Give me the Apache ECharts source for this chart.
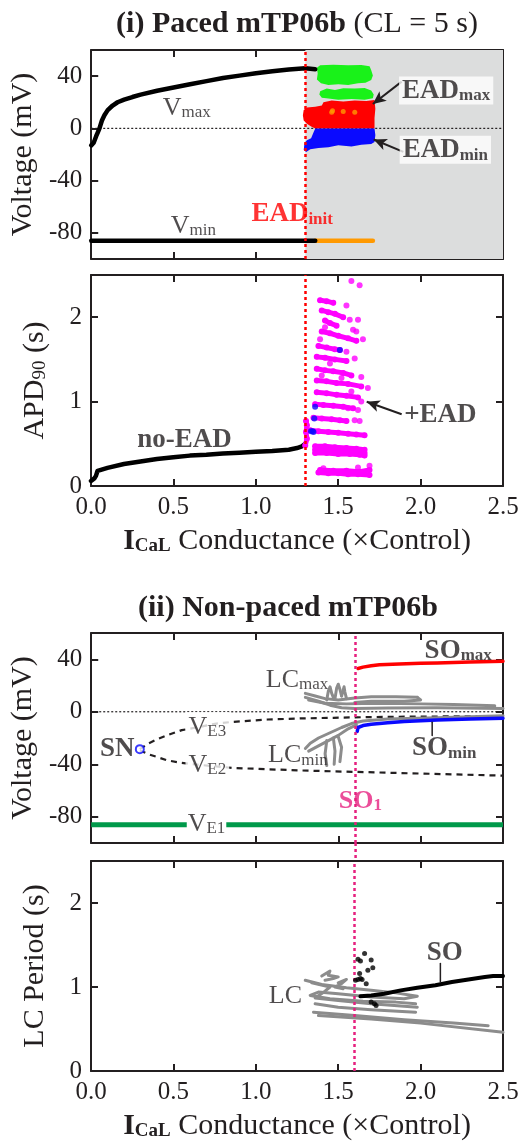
<!DOCTYPE html>
<html><head><meta charset="utf-8">
<script src="https://cdn.jsdelivr.net/npm/echarts@6/dist/echarts.min.js"></script>
<style>html,body{margin:0;padding:0;background:#fff}#c{width:532px;height:1142px}</style>
</head><body><div id="c"></div>
<script>
// ---------------- DATA ----------------
const voltTicks = [-80, -40, 0, 40];
const apdTicks = [0, 1, 2];
const periodTicks = [0, 1, 2];
const eadInit = 1.3;
const so1 = 1.605;

// (i) paced: Vmax / Vmin
const vmaxCurve = [[0,-13],[0.015,-11],[0.03,-6],[0.04,-3],[0.05,0],[0.065,6],[0.08,10],[0.1,14],[0.13,17.5],[0.16,20],[0.2,22],[0.25,24],[0.3,25.8],[0.4,28.8],[0.5,31.3],[0.6,33.8],[0.7,36.2],[0.8,38.5],[0.9,40.4],[1.0,42.2],[1.1,43.7],[1.2,45],[1.3,46],[1.36,45.3]];
const vminCurve = [[0,-86],[1.36,-86]];
const vminEAD = [[1.36,-86],[1.71,-86]];
const eadMaxHigh = [[1.37,46.5],[1.39,48.3],[1.47,48.7],[1.56,48.3],[1.64,48.6],[1.69,47.5],[1.70,44.5],[1.71,40.5],[1.70,37],[1.665,35],[1.62,34.5],[1.56,33.3],[1.50,33.8],[1.44,33.2],[1.395,34.5],[1.37,37.5],[1.375,42]];
const eadMaxLow = [[1.39,28.5],[1.43,30.5],[1.48,29.3],[1.53,30.8],[1.60,30.5],[1.66,31],[1.70,29],[1.715,26],[1.71,23],[1.66,22],[1.58,22.5],[1.50,22],[1.44,22.8],[1.40,23.5],[1.385,26]];
const eadMaxRed = [[1.41,20],[1.46,21.3],[1.53,20.5],[1.60,21.3],[1.67,21],[1.72,21.8],[1.725,15],[1.72,8],[1.72,0],[1.36,0],[1.335,1.5],[1.31,3.5],[1.29,6],[1.285,10],[1.29,14],[1.31,16],[1.36,16.5],[1.40,17.5]];
const eadMinBlue = [[1.36,0],[1.72,0],[1.725,-5],[1.72,-10.5],[1.70,-12],[1.64,-12.5],[1.58,-13.8],[1.50,-13],[1.44,-14.5],[1.38,-15],[1.33,-16],[1.305,-18],[1.29,-16.5],[1.295,-11],[1.31,-9],[1.335,-7.5],[1.35,-3]];
const orangeMidDots = [[1.46,12.3],[1.53,13],[1.60,12.3],[1.465,13.5]];

// (i) paced: APD90
const apdCurve = [[0,0.06],[0.02,0.09],[0.03,0.12],[0.04,0.18],[0.05,0.2],[0.1,0.215],[0.2,0.26],[0.3,0.29],[0.4,0.32],[0.5,0.34],[0.6,0.36],[0.7,0.37],[0.8,0.385],[0.9,0.395],[1.0,0.405],[1.1,0.415],[1.2,0.43],[1.25,0.45],[1.28,0.47],[1.3,0.5]];
const apdEadRows = [
 [[1.38,0.16],[1.44,0.15],[1.50,0.15],[1.56,0.14],[1.62,0.14],[1.69,0.13]],
 [[1.39,0.19],[1.47,0.18],[1.55,0.18],[1.63,0.17],[1.69,0.19]],
 [[1.36,0.47],[1.42,0.47],[1.48,0.46],[1.55,0.45],[1.61,0.44],[1.66,0.43]],
 [[1.36,0.43],[1.42,0.43],[1.49,0.42],[1.56,0.41],[1.62,0.40],[1.66,0.39]],
 [[1.36,0.39],[1.43,0.39],[1.50,0.38],[1.57,0.38],[1.63,0.37],[1.66,0.36]],
 [[1.33,0.66],[1.38,0.65],[1.44,0.64],[1.50,0.63],[1.56,0.62],[1.61,0.61],[1.66,0.60]],
 [[1.35,0.81],[1.40,0.80],[1.46,0.79],[1.51,0.78],[1.55,0.77]],
 [[1.36,0.97],[1.41,0.96],[1.47,0.95],[1.53,0.94],[1.59,0.92]],
 [[1.37,1.11],[1.43,1.10],[1.49,1.08],[1.55,1.07],[1.62,1.05]],
 [[1.37,1.25],[1.43,1.24],[1.49,1.22],[1.56,1.21],[1.64,1.18]],
 [[1.37,1.39],[1.42,1.37],[1.47,1.36],[1.53,1.34],[1.58,1.31]],
 [[1.37,1.53],[1.42,1.52],[1.48,1.50],[1.55,1.48]],
 [[1.38,1.66],[1.43,1.64],[1.48,1.62],[1.51,1.61]],
 [[1.40,1.83],[1.45,1.81],[1.50,1.78],[1.56,1.75],[1.61,1.72]],
 [[1.42,1.96],[1.45,1.93],[1.49,1.90]],
 [[1.40,2.08],[1.44,2.06],[1.48,2.04],[1.53,2.00]],
 [[1.39,2.20],[1.43,2.19],[1.47,2.17]],
 [[1.30,0.48],[1.31,0.56],[1.305,0.64],[1.31,0.72],[1.305,0.77]]
];
const apdEadDots = [[1.69,0.24],[1.62,0.22],[1.41,0.21],[1.60,0.78],[1.63,0.77],[1.64,1.00],[1.62,0.90],[1.56,0.92],[1.68,1.16],[1.64,1.29],[1.60,1.51],[1.55,1.59],[1.65,1.74],[1.59,1.85],[1.61,1.83],[1.57,1.97],[1.62,1.97],[1.55,2.14],[1.58,2.43],[1.63,2.38],[1.40,1.31],[1.45,1.45],[1.52,1.28],[1.58,1.12],[1.39,1.74],[1.42,1.88]];
const apdBlueDots = [[1.335,0.65],[1.345,0.65],[1.35,0.64],[1.355,0.80],[1.36,0.94],[1.51,1.61]];

// (ii) non-paced: voltage
const soMax = [[1.62,33],[1.65,34],[1.7,35],[1.75,35.8],[1.87,36.4],[2.0,37],[2.1,37.2],[2.3,37.9],[2.5,38.5]];
const soMin = [[1.615,-15],[1.62,-12],[1.65,-10.5],[1.7,-9.5],[1.8,-8.3],[1.9,-7.5],[2.0,-6.8],[2.1,-6.3],[2.3,-5.6],[2.5,-5]];
const vE3 = [[0.295,-28.5],[0.35,-24],[0.4,-21],[0.46,-18],[0.55,-14],[0.66,-11.5],[0.76,-9],[0.86,-7.7],[1.07,-5.9],[1.27,-5.1],[1.47,-4.6],[1.67,-4.1],[1.87,-3.8],[2.5,-3.3]];
const vE2 = [[0.295,-29.5],[0.35,-32.5],[0.4,-34.5],[0.46,-37],[0.55,-39],[0.66,-40.5],[0.86,-42.8],[1.07,-43.8],[1.27,-44.7],[1.47,-45.4],[1.67,-46],[1.87,-46.7],[2.2,-47.7],[2.5,-48.7]];
const vE1 = [[[0,-86],[0.58,-86]], [[0.82,-86],[2.5,-86]]];
const snPoint = [0.295, -28.5];
const lcMaxLines = [
 [[1.30,14],[1.36,12],[1.42,10],[1.50,9],[1.60,10.5],[1.70,11.5],[1.85,11.5],[1.98,11]],
 [[1.30,11],[1.38,8],[1.45,5],[1.52,3],[1.60,2.5],[1.80,2.8],[2.1,3],[2.5,2.5]],
 [[1.32,9],[1.42,6.5],[1.55,6],[1.75,6.5],[2.0,6],[2.2,5.5],[2.45,4.5]],
 [[1.98,11],[2.0,9],[1.9,8],[1.7,8],[1.6,7]],
 [[1.43,9],[1.44,16],[1.45,19],[1.46,14],[1.47,11]],
 [[1.48,10],[1.49,18],[1.50,21],[1.51,17],[1.52,12]],
 [[1.52,12],[1.535,19],[1.54,15],[1.55,10]]
];
const lcMinLines = [
 [[1.30,-28],[1.33,-24],[1.38,-20],[1.45,-16],[1.52,-12],[1.58,-9],[1.65,-7],[1.8,-5.5],[2.1,-4.5],[2.5,-3]],
 [[1.32,-30],[1.38,-26],[1.44,-22],[1.50,-18],[1.56,-13],[1.61,-10]],
 [[1.43,-22],[1.42,-32],[1.43,-41]],
 [[1.47,-20],[1.48,-30],[1.475,-40]],
 [[1.50,-19],[1.52,-27],[1.51,-38]]
];

// (ii) non-paced: LC period
const soPeriod = [[1.635,0.89],[1.70,0.90],[1.78,0.92],[1.88,0.96],[1.98,0.99],[2.09,1.02],[2.19,1.06],[2.29,1.09],[2.39,1.12],[2.44,1.13],[2.5,1.13]];
const soPeriodDots = [[1.605,1.08],[1.62,1.33],[1.635,1.31],[1.66,1.40],[1.70,1.32],[1.71,1.23],[1.68,1.20],[1.63,1.16],[1.62,1.09],[1.635,1.10],[1.645,1.09],[1.67,1.04],[1.70,0.82],[1.72,0.80],[1.73,0.78]];
const lcPeriodLines = [
 [[1.30,1.08],[1.40,1.03],[1.55,0.99],[1.70,0.96],[1.85,0.93],[1.98,0.89],[1.90,0.86],[1.70,0.88],[1.50,0.92],[1.38,0.94],[1.33,0.90],[1.45,0.86],[1.65,0.83],[1.85,0.82],[1.97,0.80]],
 [[1.34,1.05],[1.45,1.0],[1.42,0.95],[1.36,0.87],[1.5,0.84],[1.7,0.80],[1.98,0.76]],
 [[1.36,0.80],[1.5,0.76],[1.7,0.73],[1.97,0.70]],
 [[1.35,0.70],[1.6,0.66],[1.9,0.61],[2.2,0.57],[2.41,0.54]],
 [[1.38,0.66],[1.7,0.62],[2.0,0.57],[2.5,0.46]],
 [[1.40,1.13],[1.45,1.19],[1.44,1.14],[1.50,1.12],[1.47,1.10],[1.42,1.08]],
 [[1.50,1.05],[1.55,1.09],[1.52,1.04],[1.48,1.0],[1.53,0.98]]
];

// annotations (anchor in data coordinates)
const annotations = [
 {g:0, at:[0.58,16.5], text:'{r|V}{rs|max}'},
 {g:0, at:[0.62,-74], text:'{r|V}{rs|min}'},
 {g:0, at:[2.155,29], text:'{b|EAD}{bs|max}', bg:true},
 {g:0, at:[2.15,-16.4], text:'{b|EAD}{bs|min}', bg:true},
 {g:0, at:[1.22,-65.5], text:'{red|EAD}{reds|init}'},
 {g:1, at:[0.568,0.546], text:'{b|no-EAD}'},
 {g:1, at:[2.12,0.85], text:'{b|+EAD}'},
 {g:2, at:[2.228,47], text:'{b|SO}{bs|max}'},
 {g:2, at:[1.25,25], text:'{r|LC}{rs|max}'},
 {g:2, at:[0.705,-10.8], text:'{r|V}{rs|E3}', bg:true},
 {g:2, at:[0.158,-28.2], text:'{b|SN}'},
 {g:2, at:[0.705,-39.7], text:'{r|V}{rs|E2}', bg:true},
 {g:2, at:[1.255,-32.6], text:'{r|LC}{rs|min}'},
 {g:2, at:[2.143,-27.4], text:'{b|SO}{bs|min}'},
 {g:2, at:[1.634,-67.4], text:'{pk|SO}{pks|1}'},
 {g:2, at:[0.70,-85], text:'{r|V}{rs|E1}'},
 {g:3, at:[2.146,1.41], text:'{b|SO}'},
 {g:3, at:[1.18,0.90], text:'{r|LC}'}
];
const arrows = [
 {g:0, from:[1.885,35.8], to:[1.71,18.7]},
 {g:0, from:[1.895,-18], to:[1.715,-8.5]},
 {g:1, from:[1.885,0.85], to:[1.673,0.998]}
];
const connectors = [
 {g:2, pts:[[2.07,-18],[2.07,-8]]},
 {g:3, pts:[[2.12,1.28],[2.12,1.06]]}
];

// ---------------- STYLE / BUILD ----------------
const F = '"Liberation Serif","Times New Roman",serif';
const INK = '#231f20';
const PINK = '#e6217f';
const GRAYLC = '#8c8c8c';
function tok(size, color, bold, lh) {
 return {fontFamily:F, fontSize:size, fontWeight: bold ? 'bold' : 'normal', color, lineHeight:lh, verticalAlign:'bottom'};
}
const RICH = {
 r:tok(26,INK,false,28), rs:tok(17,INK,false,19),
 b:tok(27,INK,true,28), bs:tok(17,INK,true,19),
 red:tok(27,'#ff0000',true,28), reds:tok(17,'#ff0000',true,19),
 pk:tok(26,PINK,true,28), pks:tok(17,PINK,true,19)
};

const grids = [
 {left:91, width:412, top:50, height:209},
 {left:91, width:412, top:275, height:211},
 {left:91, width:412, top:633, height:210},
 {left:91, width:412, top:861, height:210}
];
const frameLine = {show:true, onZero:false, lineStyle:{color:INK, width:2}};
const tickStyle = {show:true, inside:true, length:7, lineStyle:{color:INK, width:2}};
const xNameRich = {b:tok(30,INK,true,32), bs:tok(19,INK,true,20), r:tok(30,INK,false,32)};
const yNameRich = {m:tok(30,INK,false,32), s:tok(19,INK,false,10)};
const xAxes = [], yAxes = [];
function addX(g, labels, withName) {
 const base = {type:'value', gridIndex:g, min:0, max:2.5, interval:0.5, splitLine:{show:false}, axisLine:frameLine, axisTick:tickStyle};
 xAxes.push(Object.assign({}, base, {position:'bottom',
  axisLabel:{show:labels, formatter:v=>v.toFixed(1), fontFamily:F, fontSize:25, color:INK, margin:9},
  name: withName ? '{b|I}{bs|CaL}{r| Conductance (×Control)}' : '',
  nameLocation:'middle', nameGap:38,
  nameTextStyle:{rich:xNameRich, fontFamily:F, fontSize:30, color:INK}}));
 xAxes.push(Object.assign({}, base, {position:'top', axisLabel:{show:false}}));
}
function addY(g, min, max, ticks, name, gap) {
 const base = {type:'value', gridIndex:g, min, max, splitLine:{show:false}, axisLine:frameLine,
  axisTick:Object.assign({}, tickStyle, {customValues:ticks})};
 yAxes.push(Object.assign({}, base, {position:'left',
  axisLabel:{show:true, customValues:ticks, fontFamily:F, fontSize:25, color:INK, margin:9},
  name, nameLocation:'middle', nameRotate:90, nameGap:gap,
  nameTextStyle:{fontFamily:F, fontSize:30, color:INK, rich:yNameRich}}));
 yAxes.push(Object.assign({}, base, {position:'right', axisLabel:{show:false, customValues:ticks}}));
}
addX(0,false,false); addX(1,true,true); addX(2,false,false); addX(3,true,true);
addY(0,-100,60,voltTicks,'{m|Voltage (mV)}',35);
addY(1,0,2.5,apdTicks,'{m|APD}{s|90}{m| (s)}',41);
addY(2,-100,60,voltTicks,'{m|Voltage (mV)}',35);
addY(3,0,2.5,periodTicks,'{m|LC Period (s)}',41);

const series = [];
function ax(g){ return {xAxisIndex:2*g, yAxisIndex:2*g}; }
function line(g, data, color, width, extra) {
 series.push(Object.assign({type:'line', data, symbol:'none', silent:true, z:3,
  lineStyle:{color, width, cap:'round', join:'round'}}, ax(g), extra||{}));
}
function dots(g, data, color, size, z) {
 series.push(Object.assign({type:'scatter', data, symbolSize:size, silent:true, z:z||4,
  itemStyle:{color}}, ax(g)));
}
function poly(g, pts, color) {
 series.push(Object.assign({type:'custom', silent:true, z:2, data:pts,
  renderItem:(params, api) => {
   if (params.dataIndex !== 0) return null;
   return {type:'polygon', shape:{points: pts.map(p => api.coord(p))}, style:{fill:color}};
  }}, ax(g)));
}
function vline(g, x, color) {
 series.push(Object.assign({type:'line', data:[], silent:true, z:5,
  markLine:{silent:true, symbol:'none', animation:false, label:{show:false},
   lineStyle:{color, width:2.5, type:[3,3]}, data:[{xAxis:x}]}}, ax(g)));
}

// background of EAD region
series.push(Object.assign({type:'line', data:[[eadInit,-100]], symbol:'none', silent:true, z:0,
 lineStyle:{width:0}, markArea:{silent:true, itemStyle:{color:'#dcdddd'}, data:[[{xAxis:eadInit},{xAxis:2.5}]]}}, ax(0)));
// zero lines
line(0, [[0,0],[2.5,0]], INK, 1, {z:1, lineStyle:{color:INK, width:1.2, type:[2,2]}});
line(2, [[0,0],[2.5,0]], INK, 1, {z:1, lineStyle:{color:INK, width:1.2, type:[2,2]}});

// panel 1
poly(0, eadMaxHigh, '#19f219');
poly(0, eadMaxLow, '#19f219');
poly(0, eadMaxRed, '#ff0000');
poly(0, eadMinBlue, '#0a0aff');
dots(0, orangeMidDots, '#ff9900', 5, 4);
line(0, vmaxCurve, '#000', 4.5);
line(0, vminCurve, '#000', 4.5);
line(0, vminEAD, '#ff9900', 4.5, {z:2});
vline(0, eadInit, '#ff0000');

// panel 2
line(1, apdCurve, '#000', 4.5);
apdEadRows.forEach(r => line(1, r, '#ff00ff', 5, {symbol:'circle', symbolSize:6, showSymbol:true, showAllSymbol:true, itemStyle:{color:'#ff00ff'}}));
dots(1, apdEadDots, '#ff00ff', 6, 4);
dots(1, apdBlueDots, '#0a0aff', 6, 5);
vline(1, eadInit, '#ff0000');

// panel 3
vE1.forEach(s => line(2, s, '#00994a', 5, {lineStyle:{color:'#00994a', width:5, cap:'butt'}}));
line(2, vE3, INK, 2.2, {lineStyle:{color:INK, width:2.2, type:[6,5]}});
line(2, vE2, INK, 2.2, {lineStyle:{color:INK, width:2.2, type:[6,5]}});
lcMaxLines.forEach(l => line(2, l, GRAYLC, 3));
lcMinLines.forEach(l => line(2, l, GRAYLC, 3));
line(2, soMax, '#ff0000', 3.5, {z:4});
line(2, soMin, '#0a0aff', 3.5, {z:4});
series.push(Object.assign({type:'scatter', data:[snPoint], symbol:'circle', symbolSize:8, silent:true, z:6,
 itemStyle:{color:'#fff', borderColor:'#0a0aff', borderWidth:2}}, ax(2)));
vline(2, so1, PINK);

// panel 4
lcPeriodLines.forEach(l => line(3, l, GRAYLC, 3));
line(3, soPeriod, '#000', 4, {z:4});
dots(3, soPeriodDots, '#000', 5, 5);
vline(3, so1, PINK);

// connectors
connectors.forEach(c => line(c.g, c.pts, INK, 1.5, {z:6}));

// labels and arrows
[0,1,2,3].forEach(g => {
 const items = annotations.filter(a => a.g === g).map(a => ({
  value:a.at,
  label:{show:true, position:'inside', formatter:a.text, rich:RICH,
   backgroundColor: a.bg ? '#ffffff' : 'transparent', padding: a.bg ? [0,3,0,3] : 0}
 }));
 const arr = arrows.filter(a => a.g === g);
 const s = Object.assign({type:'scatter', data:items, symbolSize:1, silent:true, z:10,
  itemStyle:{color:'rgba(0,0,0,0)'}}, ax(g));
 if (arr.length) {
  s.markLine = {silent:true, animation:false, symbol:['none','arrow'], symbolSize:[9,13],
   label:{show:false}, lineStyle:{color:INK, width:2, type:'solid'},
   data: arr.map(a => [{coord:a.from},{coord:a.to}])};
 }
 series.push(s);
});

const titleRich = {
 b:{fontFamily:F, fontSize:30, fontWeight:'bold', fill:INK},
 r:{fontFamily:F, fontSize:30, fill:INK}
};
const option = {
 animation:false,
 backgroundColor:'#ffffff',
 grid: grids,
 xAxis: xAxes,
 yAxis: yAxes,
 series,
 graphic:[
  {type:'text', id:'t1', x:297, y:24, style:{text:'{b|(i) Paced mTP06b} {r|(CL = 5 s)}', rich:titleRich,
   font:'30px '+F, fill:INK, align:'center', textAlign:'center', verticalAlign:'middle', textVerticalAlign:'middle'}},
  {type:'text', id:'t2', x:288, y:608, style:{text:'(ii) Non-paced mTP06b',
   font:'bold 30px '+F, fill:INK, align:'center', textAlign:'center', verticalAlign:'middle', textVerticalAlign:'middle'}}
 ]
};
const chart = echarts.init(document.getElementById('c'), null, {renderer:'canvas'});
chart.setOption(option);
const gx = chart.convertToPixel({xAxisIndex:4}, so1);
const gyTop = chart.convertToPixel({yAxisIndex:4}, -100);
const gyBot = chart.convertToPixel({yAxisIndex:6}, 2.5);
chart.setOption({graphic:[{id:'gap', type:'line', z:5, shape:{x1:gx, y1:gyTop, x2:gx, y2:gyBot},
 style:{stroke:PINK, lineWidth:2.5, lineDash:[3,3]}}]});
</script></body></html>
